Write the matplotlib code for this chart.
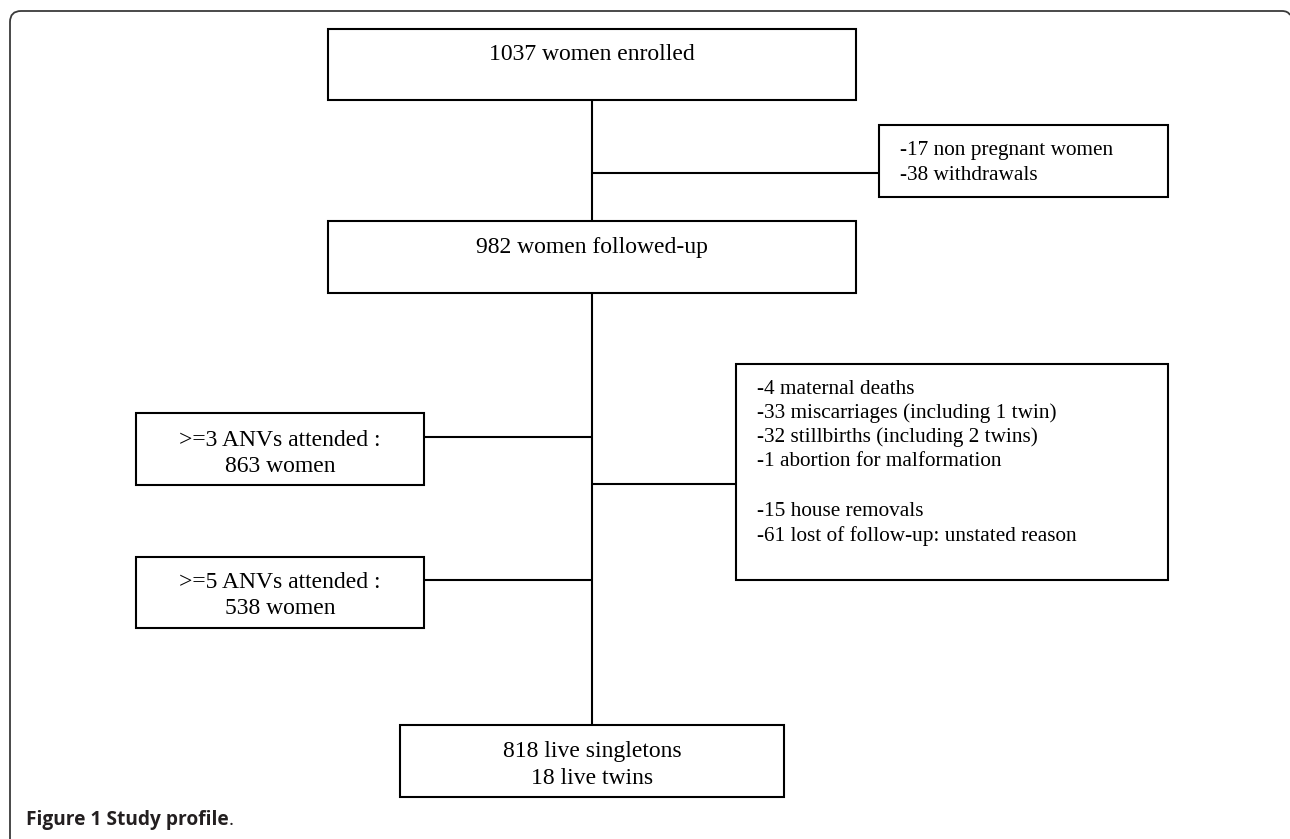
import matplotlib.pyplot as plt
from matplotlib.patches import Rectangle, PathPatch
from matplotlib.path import Path

# box texts
enrolled = ["1037 women enrolled"]
excluded = ["-17 non pregnant women", "-38 withdrawals"]
followed = ["982 women followed-up"]
anv3 = [">=3 ANVs attended :", "863 women"]
anv5 = [">=5 ANVs attended :", "538 women"]
lost = ["-4 maternal deaths",
        "-33 miscarriages (including 1 twin)",
        "-32 stillbirths (including 2 twins)",
        "-1 abortion for malformation",
        "",
        "-15 house removals",
        "-61 lost of follow-up: unstated reason"]
births = ["818 live singletons", "18 live twins"]
caption = "Figure 1 Study profile"

W, H = 1290, 839
fig = plt.figure(figsize=(W / 100, H / 100), dpi=100)
ax = fig.add_axes([0, 0, 1, 1])
ax.set_xlim(0, W)
ax.set_ylim(H, 0)
ax.axis('off')

serif = 'Liberation Serif'
lw = 1.5
cx = 592  # main vertical line

def box(x0, y0, x1, y1, lines, ys, fs, ha='center', tx=None):
    ax.add_patch(Rectangle((x0, y0), x1 - x0, y1 - y0, fill=False,
                           edgecolor='black', linewidth=lw))
    if tx is None:
        tx = (x0 + x1) / 2
    for t, y in zip(lines, ys):
        ax.text(tx, y, t, ha=ha, va='center', family=serif, fontsize=fs)

def line(xs, ys):
    ax.plot(xs, ys, color='black', linewidth=lw, solid_capstyle='butt')

# connectors
line([cx, cx], [100, 221])
line([cx, cx], [293, 725])
line([cx, 879], [173, 173])
line([424, cx], [437, 437])
line([424, cx], [580, 580])
line([cx, 736], [484, 484])

box(328, 29, 856, 100, enrolled, [55], 17)
box(879, 125, 1168, 197, excluded, [150, 175], 15.3, ha='left', tx=900)
box(328, 221, 856, 293, followed, [247], 17)
box(136, 413, 424, 485, anv3, [440, 466], 17)
box(136, 557, 424, 628, anv5, [583, 608], 17)
lost_y = [389, 413, 437, 462, 487, 512, 536]
box(736, 364, 1168, 580, lost, lost_y, 15.3, ha='left', tx=757)
box(400, 725, 784, 797, births, [751, 778], 17)

# outer frame with rounded corners
frame = Path([(10, H + 5), (10, 22), (10, 11), (21, 11), (1282, 11),
              (1288, 11), (1290, 15)],
             [Path.MOVETO, Path.LINETO, Path.CURVE3, Path.CURVE3,
              Path.LINETO, Path.CURVE3, Path.CURVE3])
ax.add_patch(PathPatch(frame, fill=False, edgecolor='#3a3a3a', linewidth=1.3))

# caption
cap = ax.text(26, 820, caption, ha='left', va='center', fontsize=13.8,
              fontweight='bold', family='Open Sans', color='#231f20')
ax.annotate('.', xy=(1, 0.5), xycoords=cap, ha='left', va='center',
            fontsize=13.8, family='Open Sans', color='#231f20')

fig.savefig('out.png', dpi=100)
